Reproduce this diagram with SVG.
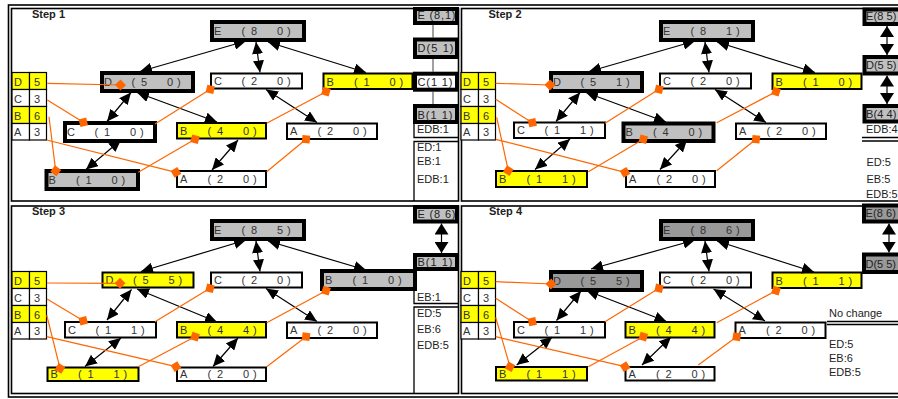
<svg xmlns="http://www.w3.org/2000/svg" width="898" height="399" viewBox="0 0 898 399">
<defs>
<style>
.frame{fill:none;stroke:#000;stroke-width:1.6}
.nest{fill:none;stroke:#000;stroke-width:1.3}
.thin{stroke:#000;stroke-width:2}
.thick{stroke:#000;stroke-width:4}
.cell{stroke:#000;stroke-width:1.2}
.y{fill:#ffff00}.g{fill:#c0c0c0}.dg{fill:#999999}.w{fill:#ffffff}
.t{font-family:"Liberation Sans",Arial,sans-serif;font-size:11px;fill:#333}
.s{font-family:"Liberation Sans",Arial,sans-serif;font-size:11px;fill:#222}
.st{font-family:"Liberation Sans",Arial,sans-serif;font-size:11px;font-weight:bold;fill:#222}
.ar{fill:none;stroke:#000;stroke-width:1.2;marker-start:url(#as);marker-end:url(#ae)}
.ar2{fill:none;stroke:#000;stroke-width:1.2;marker-start:url(#bs);marker-end:url(#be)}
.or{fill:none;stroke:#ff6600;stroke-width:1.2;marker-end:url(#dia)}
.gl{stroke:#808080;stroke-width:1.5}
</style>
<marker id="ae" viewBox="0 0 12 11" refX="12" refY="5.5" markerWidth="12" markerHeight="11" markerUnits="userSpaceOnUse" orient="auto"><path d="M0,0 L12,5.5 L0,11z" fill="#000"/></marker>
<marker id="as" viewBox="0 0 12 11" refX="0" refY="5.5" markerWidth="12" markerHeight="11" markerUnits="userSpaceOnUse" orient="auto"><path d="M12,0 L0,5.5 L12,11z" fill="#000"/></marker>
<marker id="be" viewBox="0 0 11 14" refX="11" refY="7" markerWidth="11" markerHeight="14" markerUnits="userSpaceOnUse" orient="auto"><path d="M0,0 L11,7 L0,14z" fill="#000"/></marker>
<marker id="bs" viewBox="0 0 11 14" refX="0" refY="7" markerWidth="11" markerHeight="14" markerUnits="userSpaceOnUse" orient="auto"><path d="M11,0 L0,7 L11,14z" fill="#000"/></marker>
<marker id="dia" viewBox="-6 -6 12 12" refX="0" refY="0" markerWidth="12" markerHeight="12" markerUnits="userSpaceOnUse" orient="auto"><path d="M-5.5,0 L0,-5.5 L5.5,0 L0,5.5z" fill="#ff6600"/></marker>
</defs>
<rect width="898" height="399" fill="#fff"/>
<g id="frame">
<rect class="frame" x="8.5" y="5" width="905" height="392"/>
<rect class="frame" x="11.5" y="8.5" width="447" height="192.5"/>
<rect class="frame" x="461.5" y="8.5" width="450" height="192.5"/>
<rect class="frame" x="11.5" y="206" width="447" height="187.5"/>
<rect class="frame" x="461.5" y="206" width="450" height="187.5"/>
</g>

<!-- STEP 1 -->
<g id="step1">
<text class="st" x="32" y="17.5">Step 1</text>
<g id="s1-key">
<rect class="cell y" x="12" y="72.5" width="17.5" height="17"/><rect class="cell y" x="29.5" y="72.5" width="17" height="17"/>
<rect class="cell w" x="12" y="89.5" width="17.5" height="17"/><rect class="cell w" x="29.5" y="89.5" width="17" height="17"/>
<rect class="cell y" x="12" y="106.5" width="17.5" height="17"/><rect class="cell y" x="29.5" y="106.5" width="17" height="17"/>
<rect class="cell w" x="12" y="123.5" width="17.5" height="16.5"/><rect class="cell w" x="29.5" y="123.5" width="17" height="16.5"/>
<text class="t" x="14" y="85.5">D</text><text class="t" x="34" y="85.5">5</text>
<text class="t" x="14" y="102.5">C</text><text class="t" x="34" y="102.5">3</text>
<text class="t" x="14" y="119.5">B</text><text class="t" x="34" y="119.5">6</text>
<text class="t" x="14" y="136">A</text><text class="t" x="34" y="136">3</text>
</g>
<g id="s1-E"><rect class="thick g" x="212" y="22" width="92" height="18"/><text class="t" y="35"><tspan x="214">E</tspan><tspan x="241.5">(</tspan><tspan x="251">8</tspan><tspan x="277">0</tspan><tspan x="287">)</tspan></text></g>
<g id="s1-D"><rect class="thick g" x="102" y="73" width="91" height="18"/><text class="t" y="86"><tspan x="104">D</tspan><tspan x="131.5">(</tspan><tspan x="141">5</tspan><tspan x="167">0</tspan><tspan x="177">)</tspan></text></g>
<g id="s1-C2"><rect class="thin w" x="211" y="73.5" width="91" height="15"/><text class="t" y="85"><tspan x="214">C</tspan><tspan x="241.5">(</tspan><tspan x="251">2</tspan><tspan x="277">0</tspan><tspan x="287">)</tspan></text></g>
<g id="s1-B1t"><rect class="thin y" x="323.5" y="73.5" width="89" height="15.5"/><text class="t" y="85.5"><tspan x="326.5">B</tspan><tspan x="354">(</tspan><tspan x="363.5">1</tspan><tspan x="389.5">0</tspan><tspan x="399.5">)</tspan></text></g>
<g id="s1-C1"><rect class="thick w" x="65" y="123" width="90" height="18"/><text class="t" y="136"><tspan x="67">C</tspan><tspan x="94.5">(</tspan><tspan x="104">1</tspan><tspan x="130">0</tspan><tspan x="140">)</tspan></text></g>
<g id="s1-B4"><rect class="thin y" x="177" y="123" width="89" height="15.5"/><text class="t" y="134.75"><tspan x="180">B</tspan><tspan x="207.5">(</tspan><tspan x="217">4</tspan><tspan x="243">0</tspan><tspan x="253">)</tspan></text></g>
<g id="s1-A2r"><rect class="thin w" x="287" y="123.5" width="90" height="15.5"/><text class="t" y="135.25"><tspan x="290">A</tspan><tspan x="317.5">(</tspan><tspan x="327">2</tspan><tspan x="353">0</tspan><tspan x="363">)</tspan></text></g>
<g id="s1-B1b"><rect class="thick g" x="46.5" y="171" width="91.5" height="18"/><text class="t" y="184"><tspan x="48.5">B</tspan><tspan x="76">(</tspan><tspan x="85.5">1</tspan><tspan x="111.5">0</tspan><tspan x="121.5">)</tspan></text></g>
<g id="s1-A2b"><rect class="thin w" x="177" y="171" width="89" height="16"/><text class="t" y="183"><tspan x="180">A</tspan><tspan x="207.5">(</tspan><tspan x="217">2</tspan><tspan x="243">0</tspan><tspan x="253">)</tspan></text></g>
<g id="s1-connectors">
<path class="ar" d="M246,41 L140,71.5"/>
<path class="ar" d="M256,42 L260,72.5"/>
<path class="ar" d="M268,42 L366,72.5"/>
<path class="ar" d="M131,92.5 L107,121.5"/>
<path class="ar" d="M137,92.5 L217,122"/>
<path class="ar" d="M266,89.5 L317,122.5"/>
<path class="ar" d="M121,140 L86,169.5"/>
<path class="ar" d="M238,140 L212,170"/>
<path class="or" d="M47.3,83.3 L120.5,85"/>
<path class="or" d="M47.3,100 L83.3,122.3"/>
<path class="or" d="M49,116.7 L55.7,170.7"/>
<path class="or" d="M46.7,140 L176,172.3"/>
<path class="or" d="M155,124 L210.3,89.3"/>
<path class="or" d="M138.3,172.3 L195,139.3"/>
<path class="or" d="M266.7,123.3 L326,91.7"/>
<path class="or" d="M266.7,171.7 L306,139.3"/>
</g>
</g>
<g id="s1-side">
<line class="gl" x1="433" y1="25" x2="433" y2="37.5"/>
<line class="gl" x1="433" y1="59" x2="433" y2="71.7"/>
<line class="gl" x1="433" y1="91.7" x2="433" y2="104"/>
<g id="s1-sE"><rect class="thick g" x="415" y="9" width="42" height="14"/><text class="s" x="417.5" y="19" textLength="38" lengthAdjust="spacing">E (8,1)</text></g>
<g id="s1-sD"><rect class="thick g" x="415" y="39.5" width="42" height="17.5"/><text class="s" x="417.5" y="52" textLength="36" lengthAdjust="spacing">D(5 1)</text></g>
<g id="s1-sC"><rect class="thick w" x="415" y="73.7" width="42" height="16"/><text class="s" x="417.5" y="85.5" textLength="35" lengthAdjust="spacing">C(1 1)</text></g>
<g id="s1-sB"><rect class="thick g" x="415" y="106" width="42" height="16"/><text class="s" x="417.5" y="118.5" textLength="35" lengthAdjust="spacing">B(1 1)</text></g>
<path class="nest" d="M414,124 V137.5 H458.5 M414,201 V141.5 H458.5"/>
<text class="s" x="417" y="133">EDB:1</text>
<text class="s" x="417" y="150.5">ED:1</text>
<text class="s" x="417" y="165">EB:1</text>
<text class="s" x="417" y="182.5">EDB:1</text>
</g>

<!-- STEP 2 -->
<text class="st" x="488.5" y="17.5">Step 2</text>
<g id="step2" transform="translate(449,0)">
<g id="s2-key">
<rect class="cell y" x="12" y="72.5" width="17.5" height="17"/><rect class="cell y" x="29.5" y="72.5" width="17" height="17"/>
<rect class="cell w" x="12" y="89.5" width="17.5" height="17"/><rect class="cell w" x="29.5" y="89.5" width="17" height="17"/>
<rect class="cell y" x="12" y="106.5" width="17.5" height="17"/><rect class="cell y" x="29.5" y="106.5" width="17" height="17"/>
<rect class="cell w" x="12" y="123.5" width="17.5" height="16.5"/><rect class="cell w" x="29.5" y="123.5" width="17" height="16.5"/>
<text class="t" x="14" y="85.5">D</text><text class="t" x="34" y="85.5">5</text>
<text class="t" x="14" y="102.5">C</text><text class="t" x="34" y="102.5">3</text>
<text class="t" x="14" y="119.5">B</text><text class="t" x="34" y="119.5">6</text>
<text class="t" x="14" y="136">A</text><text class="t" x="34" y="136">3</text>
</g>
<g id="s2-E"><rect class="thick g" x="212" y="22" width="92" height="18"/><text class="t" y="35"><tspan x="214">E</tspan><tspan x="241.5">(</tspan><tspan x="251">8</tspan><tspan x="277">1</tspan><tspan x="287">)</tspan></text></g>
<g id="s2-D"><rect class="thick g" x="102" y="73" width="91" height="18"/><text class="t" y="86"><tspan x="104">D</tspan><tspan x="131.5">(</tspan><tspan x="141">5</tspan><tspan x="167">1</tspan><tspan x="177">)</tspan></text></g>
<g id="s2-C2"><rect class="thin w" x="211" y="73.5" width="91" height="15"/><text class="t" y="85"><tspan x="214">C</tspan><tspan x="241.5">(</tspan><tspan x="251">2</tspan><tspan x="277">0</tspan><tspan x="287">)</tspan></text></g>
<g id="s2-B1t"><rect class="thin y" x="323.5" y="73.5" width="89" height="15.5"/><text class="t" y="85.5"><tspan x="326.5">B</tspan><tspan x="354">(</tspan><tspan x="363.5">1</tspan><tspan x="389.5">0</tspan><tspan x="399.5">)</tspan></text></g>
<g id="s2-C1"><rect class="thin w" x="65" y="122.5" width="91" height="15.5"/><text class="t" y="134.25"><tspan x="68">C</tspan><tspan x="95.5">(</tspan><tspan x="105">1</tspan><tspan x="131">1</tspan><tspan x="141">)</tspan></text></g>
<g id="s2-B4"><rect class="thick g" x="174.5" y="123.5" width="90" height="17.5"/><text class="t" y="136.25"><tspan x="176.5">B</tspan><tspan x="204">(</tspan><tspan x="213.5">4</tspan><tspan x="239.5">0</tspan><tspan x="249.5">)</tspan></text></g>
<g id="s2-A2r"><rect class="thin w" x="287" y="123.5" width="90" height="15.5"/><text class="t" y="135.25"><tspan x="290">A</tspan><tspan x="317.5">(</tspan><tspan x="327">2</tspan><tspan x="353">0</tspan><tspan x="363">)</tspan></text></g>
<g id="s2-B1b"><rect class="thin y" x="47" y="171" width="91" height="16"/><text class="t" y="183"><tspan x="50">B</tspan><tspan x="77.5">(</tspan><tspan x="87">1</tspan><tspan x="113">1</tspan><tspan x="123">)</tspan></text></g>
<g id="s2-A2b"><rect class="thin w" x="177" y="171" width="89" height="16"/><text class="t" y="183"><tspan x="180">A</tspan><tspan x="207.5">(</tspan><tspan x="217">2</tspan><tspan x="243">0</tspan><tspan x="253">)</tspan></text></g>
<g id="s2-connectors">
<path class="ar" d="M246,41 L140,71.5"/>
<path class="ar" d="M256,42 L260,72.5"/>
<path class="ar" d="M268,42 L366,72.5"/>
<path class="ar" d="M131,92.5 L107,121.5"/>
<path class="ar" d="M137,92.5 L217,122"/>
<path class="ar" d="M266,89.5 L317,122.5"/>
<path class="ar" d="M121,139 L86,169.5"/>
<path class="ar" d="M238,140 L211,169.5"/>
<path class="or" d="M46.7,83.3 L101,85"/>
<path class="or" d="M46.7,99.3 L83.3,122.7"/>
<path class="or" d="M47.7,117.3 L59.3,170.7"/>
<path class="or" d="M46.7,139.3 L176,172.3"/>
<path class="or" d="M156,123.3 L210,89.3"/>
<path class="or" d="M139.3,171.7 L194.3,139.3"/>
<path class="or" d="M267.7,122.7 L327,91.7"/>
<path class="or" d="M267.7,170.7 L307,139.3"/>
</g>
</g>
<g id="s2-side">
<path class="ar2" d="M887,26 V55"/>
<path class="ar2" d="M887,75.5 V104"/>
<g id="s2-sE"><rect class="thick g" x="864.5" y="9.5" width="40" height="14.5"/><text class="s" x="866" y="19.5" textLength="30.5" lengthAdjust="spacing">E(8 5)</text></g>
<g id="s2-sD"><rect class="thick g" x="864.5" y="57" width="40" height="16.5"/><text class="s" x="866" y="68.5" textLength="30.5" lengthAdjust="spacing">D(5 5)</text></g>
<g id="s2-sB"><rect class="thick g" x="864.5" y="106" width="40" height="15.5"/><text class="s" x="866" y="117.5" textLength="30.5" lengthAdjust="spacing">B(4 4)</text></g>
<path class="nest" d="M862,137.5 H905 M862,141 H905"/>
<text class="s" x="866" y="133" textLength="31.5" lengthAdjust="spacingAndGlyphs">EDB:4</text>
<text class="s" x="866.5" y="165.5">ED:5</text>
<text class="s" x="866.5" y="182.5">EB:5</text>
<text class="s" x="866" y="197.5" textLength="31.5" lengthAdjust="spacingAndGlyphs">EDB:5</text>
</g>

<!-- STEP 3 -->
<text class="st" x="32" y="215">Step 3</text>
<g id="step3" transform="translate(0,199)">
<g id="s3-key">
<rect class="cell y" x="12" y="72.5" width="17.5" height="17"/><rect class="cell y" x="29.5" y="72.5" width="17" height="17"/>
<rect class="cell w" x="12" y="89.5" width="17.5" height="17"/><rect class="cell w" x="29.5" y="89.5" width="17" height="17"/>
<rect class="cell y" x="12" y="106.5" width="17.5" height="17"/><rect class="cell y" x="29.5" y="106.5" width="17" height="17"/>
<rect class="cell w" x="12" y="123.5" width="17.5" height="16.5"/><rect class="cell w" x="29.5" y="123.5" width="17" height="16.5"/>
<text class="t" x="14" y="85.5">D</text><text class="t" x="34" y="85.5">5</text>
<text class="t" x="14" y="102.5">C</text><text class="t" x="34" y="102.5">3</text>
<text class="t" x="14" y="119.5">B</text><text class="t" x="34" y="119.5">6</text>
<text class="t" x="14" y="136">A</text><text class="t" x="34" y="136">3</text>
</g>
<g id="s3-E"><rect class="thick g" x="212" y="22" width="92" height="18"/><text class="t" y="35"><tspan x="214">E</tspan><tspan x="241.5">(</tspan><tspan x="251">8</tspan><tspan x="277">5</tspan><tspan x="287">)</tspan></text></g>
<g id="s3-D"><rect class="thin y" x="102.5" y="73.5" width="91" height="15"/><text class="t" y="85"><tspan x="105.5">D</tspan><tspan x="133">(</tspan><tspan x="142.5">5</tspan><tspan x="168.5">5</tspan><tspan x="178.5">)</tspan></text></g>
<g id="s3-C2"><rect class="thin w" x="211" y="73.5" width="91" height="15"/><text class="t" y="85"><tspan x="214">C</tspan><tspan x="241.5">(</tspan><tspan x="251">2</tspan><tspan x="277">0</tspan><tspan x="287">)</tspan></text></g>
<g id="s3-B1t"><rect class="thick g" x="322" y="72" width="93" height="18"/><text class="t" y="85"><tspan x="325">B</tspan><tspan x="352.5">(</tspan><tspan x="362">1</tspan><tspan x="388">0</tspan><tspan x="398">)</tspan></text></g>
<g id="s3-C1"><rect class="thin w" x="65" y="123" width="91" height="15.5"/><text class="t" y="134.75"><tspan x="68">C</tspan><tspan x="95.5">(</tspan><tspan x="105">1</tspan><tspan x="131">1</tspan><tspan x="141">)</tspan></text></g>
<g id="s3-B4"><rect class="thin y" x="177" y="123" width="89" height="15.5"/><text class="t" y="134.75"><tspan x="180">B</tspan><tspan x="207.5">(</tspan><tspan x="217">4</tspan><tspan x="243">4</tspan><tspan x="253">)</tspan></text></g>
<g id="s3-A2r"><rect class="thin w" x="287" y="123.5" width="90" height="15.5"/><text class="t" y="135.25"><tspan x="290">A</tspan><tspan x="317.5">(</tspan><tspan x="327">2</tspan><tspan x="353">0</tspan><tspan x="363">)</tspan></text></g>
<g id="s3-B1b"><rect class="thin y" x="47.5" y="168.5" width="91" height="13.5"/><text class="t" y="179.25"><tspan x="50.5">B</tspan><tspan x="78">(</tspan><tspan x="87.5">1</tspan><tspan x="113.5">1</tspan><tspan x="123.5">)</tspan></text></g>
<g id="s3-A2b"><rect class="thin w" x="177" y="168.5" width="89" height="13.5"/><text class="t" y="179.25"><tspan x="180">A</tspan><tspan x="207.5">(</tspan><tspan x="217">2</tspan><tspan x="243">0</tspan><tspan x="253">)</tspan></text></g>
<g id="s3-connectors">
<path class="ar" d="M246,41 L141,72.5"/>
<path class="ar" d="M256,42 L260,72.5"/>
<path class="ar" d="M268,42 L366,71"/>
<path class="ar" d="M131.5,90.5 L107,121"/>
<path class="ar" d="M137,90 L217,123"/>
<path class="ar" d="M266,89.5 L317,122.5"/>
<path class="ar" d="M121,139 L85,167.5"/>
<path class="ar" d="M238,139 L213,167.5"/>
<path class="or" d="M47,84 L120,84.3"/>
<path class="or" d="M47,100 L83.3,121.7"/>
<path class="or" d="M46.7,116 L60,169.3"/>
<path class="or" d="M46.7,137.7 L176,167.7"/>
<path class="or" d="M155,122.7 L210,89.3"/>
<path class="or" d="M138.3,167.7 L195,137.7"/>
<path class="or" d="M266.7,123.7 L326,91.7"/>
<path class="or" d="M266.7,167.7 L306,137.7"/>
</g>
</g>
<g id="s3-side">
<path class="ar2" d="M441.5,223.5 V253"/>
<g id="s3-sE"><rect class="thick g" x="415" y="207" width="42" height="14.5"/><text class="s" x="417.5" y="218" textLength="38" lengthAdjust="spacing">E (8 6)</text></g>
<g id="s3-sB"><rect class="thick g" x="415" y="255" width="42" height="14"/><text class="s" x="417.5" y="266" textLength="35" lengthAdjust="spacing">B(1 1)</text></g>
<path class="nest" d="M414,271 V303.5 H458.5 M414,393.5 V307 H458.5"/>
<text class="s" x="417" y="301">EB:1</text>
<text class="s" x="417" y="316.5">ED:5</text>
<text class="s" x="417" y="333">EB:6</text>
<text class="s" x="417" y="348.5">EDB:5</text>
</g>

<!-- STEP 4 -->
<text class="st" x="489" y="215">Step 4</text>
<g id="step4" transform="translate(449,199)">
<g id="s4-key">
<rect class="cell y" x="12" y="72.5" width="17.5" height="17"/><rect class="cell y" x="29.5" y="72.5" width="17" height="17"/>
<rect class="cell w" x="12" y="89.5" width="17.5" height="17"/><rect class="cell w" x="29.5" y="89.5" width="17" height="17"/>
<rect class="cell y" x="12" y="106.5" width="17.5" height="17"/><rect class="cell y" x="29.5" y="106.5" width="17" height="17"/>
<rect class="cell w" x="12" y="123.5" width="17.5" height="16.5"/><rect class="cell w" x="29.5" y="123.5" width="17" height="16.5"/>
<text class="t" x="14" y="85.5">D</text><text class="t" x="34" y="85.5">5</text>
<text class="t" x="14" y="102.5">C</text><text class="t" x="34" y="102.5">3</text>
<text class="t" x="14" y="119.5">B</text><text class="t" x="34" y="119.5">6</text>
<text class="t" x="14" y="136">A</text><text class="t" x="34" y="136">3</text>
</g>
<g id="s4-E"><rect class="thick dg" x="212" y="22" width="92" height="18"/><text class="t" y="35"><tspan x="214">E</tspan><tspan x="241.5">(</tspan><tspan x="251">8</tspan><tspan x="277">6</tspan><tspan x="287">)</tspan></text></g>
<g id="s4-D"><rect class="thick dg" x="102" y="73" width="91" height="18"/><text class="t" y="86"><tspan x="104">D</tspan><tspan x="131.5">(</tspan><tspan x="141">5</tspan><tspan x="167">5</tspan><tspan x="177">)</tspan></text></g>
<g id="s4-C2"><rect class="thin w" x="211" y="73.5" width="91" height="15"/><text class="t" y="85"><tspan x="214">C</tspan><tspan x="241.5">(</tspan><tspan x="251">2</tspan><tspan x="277">0</tspan><tspan x="287">)</tspan></text></g>
<g id="s4-B1t"><rect class="thin y" x="323.5" y="73.5" width="89" height="15.5"/><text class="t" y="85.5"><tspan x="326.5">B</tspan><tspan x="354">(</tspan><tspan x="363.5">1</tspan><tspan x="389.5">1</tspan><tspan x="399.5">)</tspan></text></g>
<g id="s4-C1"><rect class="thin w" x="65" y="123" width="91" height="15.5"/><text class="t" y="134.75"><tspan x="68">C</tspan><tspan x="95.5">(</tspan><tspan x="105">1</tspan><tspan x="131">1</tspan><tspan x="141">)</tspan></text></g>
<g id="s4-B4"><rect class="thin y" x="176.5" y="123" width="89" height="15.5"/><text class="t" y="134.75"><tspan x="179.5">B</tspan><tspan x="207">(</tspan><tspan x="216.5">4</tspan><tspan x="242.5">4</tspan><tspan x="252.5">)</tspan></text></g>
<g id="s4-A2r"><rect class="thin w" x="286.5" y="123.5" width="90" height="15.5"/><text class="t" y="135.25"><tspan x="289.5">A</tspan><tspan x="317">(</tspan><tspan x="326.5">2</tspan><tspan x="352.5">0</tspan><tspan x="362.5">)</tspan></text></g>
<g id="s4-B1b"><rect class="thin y" x="47" y="168" width="91" height="13.5"/><text class="t" y="178.75"><tspan x="50">B</tspan><tspan x="77.5">(</tspan><tspan x="87">1</tspan><tspan x="113">1</tspan><tspan x="123">)</tspan></text></g>
<g id="s4-A2b"><rect class="thin w" x="176.5" y="168" width="89" height="13.5"/><text class="t" y="178.75"><tspan x="179.5">A</tspan><tspan x="207">(</tspan><tspan x="216.5">2</tspan><tspan x="242.5">0</tspan><tspan x="252.5">)</tspan></text></g>
<g id="s4-connectors">
<path class="ar" d="M246,41 L142,70"/>
<path class="ar" d="M256,42 L260,72.5"/>
<path class="ar" d="M268,42 L365,73"/>
<path class="ar" d="M132,92 L107.5,121.5"/>
<path class="ar" d="M137.5,91.5 L217.5,122.5"/>
<path class="ar" d="M264.5,90 L316,122"/>
<path class="ar" d="M103.3,138 L67.7,166"/>
<path class="ar" d="M222,138 L193,166"/>
<path class="or" d="M46.7,82.7 L102,85"/>
<path class="or" d="M46.7,99.3 L83.3,122.7"/>
<path class="or" d="M46.7,118.3 L61,167.7"/>
<path class="or" d="M46.7,137.7 L176,167.7"/>
<path class="or" d="M156,122.7 L210,89.3"/>
<path class="or" d="M139.3,167.7 L194.3,137.7"/>
<path class="or" d="M267.7,123.7 L327,91.7"/>
<path class="or" d="M249.3,166 L287.7,137.7"/>
</g>
</g>
<g id="s4-side">
<path class="ar2" d="M889,223.5 V252.5"/>
<g id="s4-sE"><rect class="thick dg" x="864" y="205.5" width="41" height="16"/><text class="s" x="865.5" y="217" textLength="30.5" lengthAdjust="spacing">E(8 6)</text></g>
<g id="s4-sD"><rect class="thick dg" x="864" y="254.5" width="41" height="17.5"/><text class="s" x="865.5" y="268" textLength="30.5" lengthAdjust="spacing">D(5 5)</text></g>
<text class="s" x="829" y="317">No change</text>
<path class="nest" d="M827,321.5 H905 M827,324.5 H905"/>
<text class="s" x="829" y="348">ED:5</text>
<text class="s" x="829" y="361.5">EB:6</text>
<text class="s" x="829" y="375.5">EDB:5</text>
</g>
</svg>
